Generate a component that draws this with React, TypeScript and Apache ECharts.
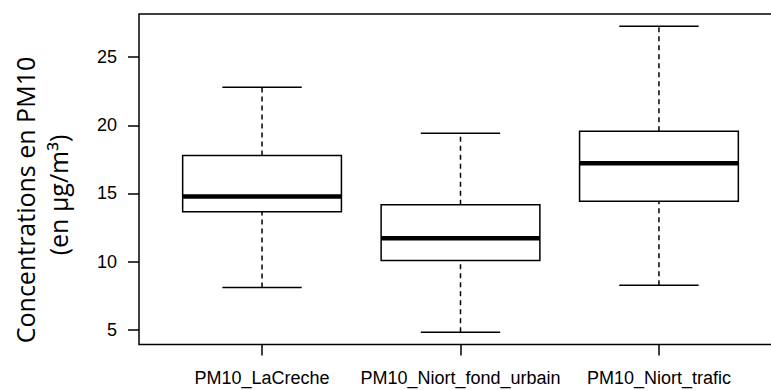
import React, { useEffect, useRef } from "react";
import * as echarts from "echarts";

const categories = ["PM10_LaCreche", "PM10_Niort_fond_urbain", "PM10_Niort_trafic"];
const lowerWhisker = [8.1, 4.82, 8.27];
const q1 = [13.66, 10.08, 14.43];
const median = [14.78, 11.72, 17.22];
const q3 = [17.79, 14.17, 19.57];
const upperWhisker = [22.8, 19.42, 27.27];
const yTicks = [5, 10, 15, 20, 25];
const xPositions = [1, 2, 3];
const titleLine1 = "Concentrations en PM10";
const titleLine2 = "(en µg/m³)";

export default function App() {
  const ref = useRef<HTMLDivElement>(null);
  useEffect(() => {
    if (!ref.current) return;
    const chart = echarts.init(ref.current, undefined, { renderer: "svg" });
    const data = categories.map((_, i) => [
      xPositions[i],
      lowerWhisker[i],
      q1[i],
      median[i],
      q3[i],
      upperWhisker[i],
    ]);
    const option: any = {
      animation: false,
      backgroundColor: "#ffffff",
      grid: {
        left: 139,
        top: 14,
        width: 643,
        height: 330.5,
        show: true,
        borderColor: "#000",
        borderWidth: 1.5,
        backgroundColor: "transparent",
        containLabel: false,
        outerBoundsMode: "none",
      },
      xAxis: {
        type: "value",
        min: 0.38,
        max: 3.62,
        axisLine: { show: false },
        splitLine: { show: false },
        axisTick: {
          show: true,
          length: 11,
          customValues: xPositions,
          lineStyle: { color: "#000", width: 1.5 },
        },
        axisLabel: {
          customValues: xPositions,
          formatter: (v: number) => categories[Math.round(v) - 1] ?? "",
          color: "#000",
          fontFamily: "Liberation Sans",
          fontSize: 18,
          margin: 24,
        },
      },
      yAxis: {
        type: "value",
        min: 3.92,
        max: 28.17,
        axisLine: { show: false },
        splitLine: { show: false },
        axisTick: {
          show: true,
          length: 11,
          customValues: yTicks,
          lineStyle: { color: "#000", width: 1.5 },
        },
        axisLabel: {
          customValues: yTicks,
          color: "#000",
          fontFamily: "Liberation Sans",
          fontSize: 18,
          margin: 22,
        },
      },
      graphic: [
        {
          type: "text",
          x: 24.5,
          y: 200,
          rotation: Math.PI / 2,
          style: {
            text: titleLine1,
            fontFamily: "Open Sans",
            fontSize: 25,
            fill: "#000",
            align: "center",
            verticalAlign: "middle",
          },
        },
        {
          type: "text",
          x: 58,
          y: 195,
          rotation: Math.PI / 2,
          style: {
            text: titleLine2,
            fontFamily: "Open Sans",
            fontSize: 25,
            fill: "#000",
            align: "center",
            verticalAlign: "middle",
          },
        },
      ],
      series: [
        {
          type: "custom",
          data,
          renderItem: (params: any, api: any) => {
            const x = api.value(0);
            const vMin = api.value(1);
            const vQ1 = api.value(2);
            const vMed = api.value(3);
            const vQ3 = api.value(4);
            const vMax = api.value(5);
            const pMin = api.coord([x, vMin]);
            const pQ1 = api.coord([x, vQ1]);
            const pMed = api.coord([x, vMed]);
            const pQ3 = api.coord([x, vQ3]);
            const pMax = api.coord([x, vMax]);
            const boxHalf = api.size([0.4, 0])[0];
            const capHalf = api.size([0.2, 0])[0];
            const cx = pMed[0];
            const solid = { stroke: "#000", lineWidth: 1.5, fill: null };
            const dashed = { stroke: "#000", lineWidth: 1.5, lineDash: [5, 4], fill: null };
            return {
              type: "group",
              children: [
                { type: "line", shape: { x1: cx, y1: pQ3[1], x2: cx, y2: pMax[1] }, style: dashed },
                { type: "line", shape: { x1: cx, y1: pMin[1], x2: cx, y2: pQ1[1] }, style: dashed },
                { type: "line", shape: { x1: cx - capHalf, y1: pMax[1], x2: cx + capHalf, y2: pMax[1] }, style: solid },
                { type: "line", shape: { x1: cx - capHalf, y1: pMin[1], x2: cx + capHalf, y2: pMin[1] }, style: solid },
                {
                  type: "rect",
                  shape: { x: cx - boxHalf, y: pQ3[1], width: boxHalf * 2, height: pQ1[1] - pQ3[1] },
                  style: { stroke: "#000", lineWidth: 1.5, fill: "#fff" },
                },
                {
                  type: "line",
                  shape: { x1: cx - boxHalf, y1: pMed[1], x2: cx + boxHalf, y2: pMed[1] },
                  style: { stroke: "#000", lineWidth: 4.5, fill: null },
                },
              ],
            };
          },
        },
      ],
    };
    chart.setOption(option);
    return () => chart.dispose();
  }, []);
  return <div ref={ref} style={{ position: "fixed", left: 0, top: 0, width: 771, height: 390 }} />;
}
